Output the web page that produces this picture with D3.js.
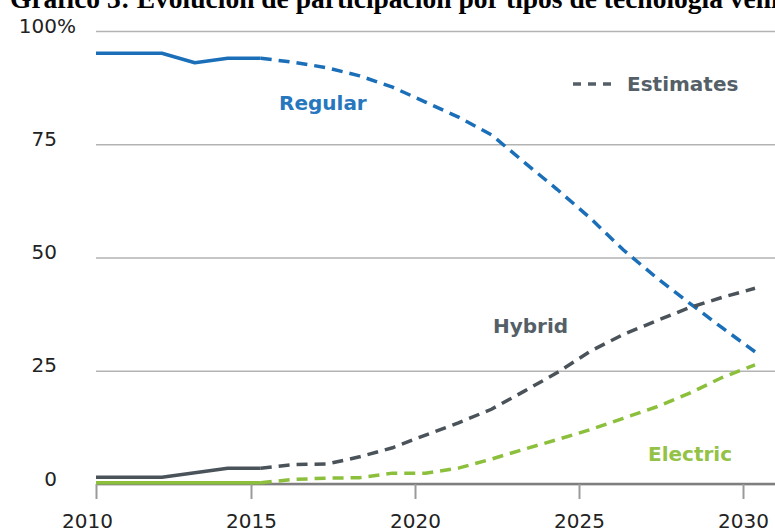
<!DOCTYPE html>
<html>
<head>
<meta charset="utf-8">
<script src="https://cdn.jsdelivr.net/npm/d3@7"></script>
<style>
  body { margin: 0; background: #fff; }
  svg { display: block; }
</style>
</head>
<body>
<svg id="chart" width="775" height="532"></svg>
<script>
const years = [2010, 2011, 2012, 2013, 2014, 2015, 2016, 2017, 2018, 2019, 2020,
               2021, 2022, 2023, 2024, 2025, 2026, 2027, 2028, 2029, 2030];
const regular  = [95.1, 95.1, 95.1, 93.0, 94.0, 94.0, 93.1, 91.9, 90.1, 87.6, 84.3,
                  81.0, 77.1, 71.0, 65.0, 58.7, 51.7, 45.6, 40.0, 34.5, 29.2];
const hybrid   = [1.5, 1.5, 1.5, 2.5, 3.5, 3.5, 4.3, 4.4, 6.0, 8.0, 10.8,
                  13.5, 16.5, 20.5, 24.6, 29.3, 33.0, 36.0, 38.9, 41.2, 43.2];
const electric = [0.3, 0.3, 0.3, 0.3, 0.3, 0.3, 1.0, 1.3, 1.4, 2.4, 2.4,
                  3.5, 5.5, 7.7, 9.8, 12.0, 14.5, 17.0, 20.0, 23.5, 26.3];
const lastActualYear = 2015;
const xTicks = [2010, 2015, 2020, 2025, 2030];
const yTicks = [0, 25, 50, 75, 100];

const series = [
  {name: "Regular",  values: regular,  color: "#1a6fb8", labelColor: "#2677bd", label: [279, 110]},
  {name: "Hybrid",   values: hybrid,   color: "#4b535a", labelColor: "#555f68", label: [493, 333]},
  {name: "Electric", values: electric, color: "#8cc03c", labelColor: "#93c246", label: [648, 461]}
];

const svg = d3.select("#chart");
const width = 775;

// data positions
const x = d3.scaleLinear().domain([2010, 2030]).range([96, 755]);
// the source chart's year ticks sit a bit left of the data years
const xAxisScale = d3.scaleLinear().domain([2010, 2015, 2030]).range([96, 251, 743]);
const y = d3.scaleLinear().domain([0, 100]).range([484, 31]);

// title, cut off at the top edge like in the source
svg.append("text")
  .attr("x", 10)
  .attr("y", 8)
  .style("font-family", "'Liberation Serif', 'Times New Roman', serif")
  .style("font-weight", "bold")
  .style("font-size", "27.5px")
  .attr("fill", "#000")
  .text("Gráfico 3: Evolución de participación por tipos de tecnología vehicular");

// y grid + labels
const yAxis = svg.append("g")
  .attr("transform", "translate(96,0)")
  .call(d3.axisLeft(y).tickValues(yTicks).tickSize(-(width - 96)).tickPadding(0));
yAxis.select(".domain").remove();
yAxis.selectAll(".tick line")
  .attr("stroke", "#b3b3b3")
  .attr("stroke-width", 1.5);
yAxis.selectAll(".tick text")
  .attr("x", -39)
  .attr("dy", 1)
  .attr("fill", "#222")
  .style("font-family", "'DejaVu Sans', sans-serif")
  .style("font-size", "20px");
yAxis.selectAll(".tick").filter(d => d === 100)
  .append("text")
  .attr("x", -39)
  .attr("dy", 1)
  .attr("text-anchor", "start")
  .attr("fill", "#222")
  .style("font-family", "'DejaVu Sans', sans-serif")
  .style("font-size", "20px")
  .text("%");

// x axis
const xAxis = svg.append("g")
  .attr("transform", `translate(0,${y(0)})`)
  .call(d3.axisBottom(xAxisScale).tickValues(xTicks).tickSize(15).tickFormat(d3.format("d")));
xAxis.select(".domain")
  .attr("d", `M96,0H${width}`)
  .attr("stroke", "#7f7f7f")
  .attr("stroke-width", 2.5);
xAxis.selectAll(".tick line")
  .attr("stroke", "#9a9a9a")
  .attr("stroke-width", 2);
xAxis.selectAll(".tick text")
  .attr("y", 44)
  .attr("dy", 0)
  .attr("fill", "#222")
  .style("font-family", "'DejaVu Sans', sans-serif")
  .style("font-size", "20px");
xAxis.selectAll(".tick text").filter(d => d === 2010).attr("dx", -9);

// lines: solid for actual, dashed for estimates
const line = d3.line()
  .x(d => x(d.year))
  .y(d => y(d.value));

series.forEach(s => {
  const pts = years.map((yr, i) => ({year: yr, value: s.values[i]}));
  const actual = pts.filter(d => d.year <= lastActualYear);
  const estimate = pts.filter(d => d.year >= lastActualYear);

  svg.append("path")
    .datum(estimate)
    .attr("d", line)
    .attr("fill", "none")
    .attr("stroke", s.color)
    .attr("stroke-width", 3.5)
    .attr("stroke-dasharray", "11,7");

  svg.append("path")
    .datum(actual)
    .attr("d", line)
    .attr("fill", "none")
    .attr("stroke", s.color)
    .attr("stroke-width", 3.5)
    .attr("stroke-linejoin", "round");

  svg.append("text")
    .attr("x", s.label[0])
    .attr("y", s.label[1])
    .attr("fill", s.labelColor)
    .style("font-family", "'DejaVu Sans', sans-serif")
    .style("font-weight", "bold")
    .style("font-size", "20px")
    .text(s.name);
});

// legend
svg.append("line")
  .attr("x1", 573).attr("x2", 612)
  .attr("y1", 84).attr("y2", 84)
  .attr("stroke", "#555f68")
  .attr("stroke-width", 3.5)
  .attr("stroke-dasharray", "8,7");
svg.append("text")
  .attr("x", 627)
  .attr("y", 91)
  .attr("fill", "#555f68")
  .style("font-family", "'DejaVu Sans', sans-serif")
  .style("font-weight", "bold")
  .style("font-size", "20px")
  .text("Estimates");
</script>
</body>
</html>
